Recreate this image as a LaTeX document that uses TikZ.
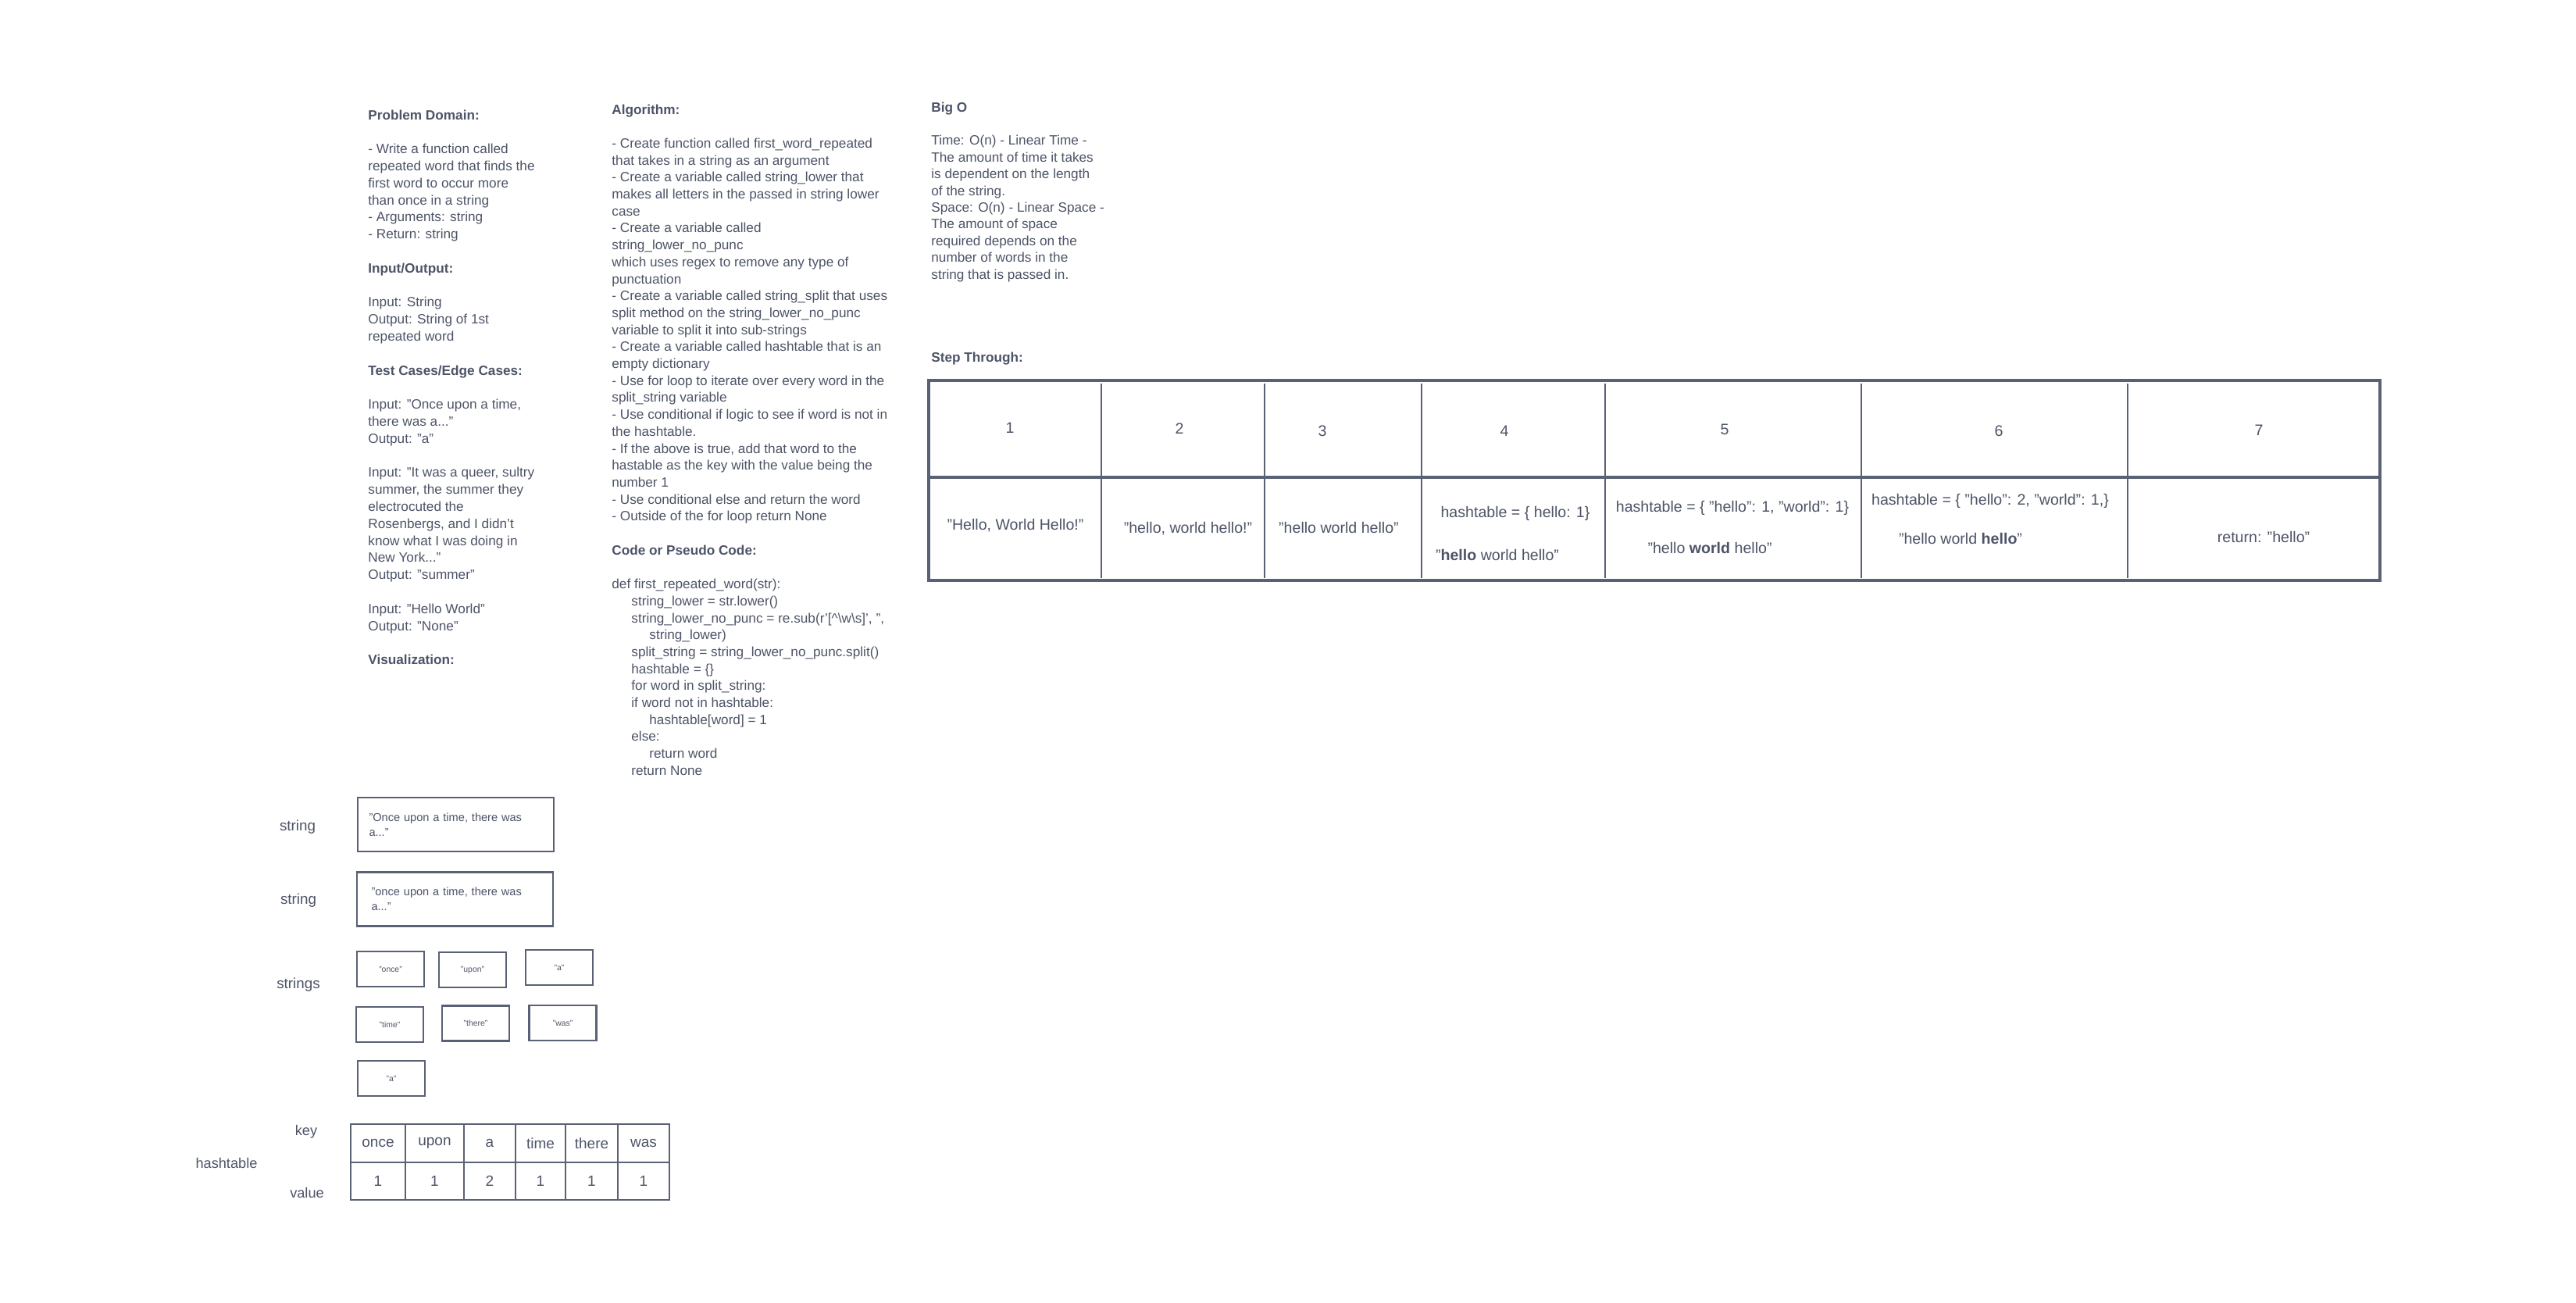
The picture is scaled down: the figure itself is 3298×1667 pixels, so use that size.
\documentclass[tikz,border=0pt]{standalone}
\usepackage{fontspec}
\setmainfont{Liberation Sans}
\definecolor{ink}{HTML}{4D5467}
\definecolor{edge}{HTML}{596174}
\newcommand{\tblock}[4]{\parbox[t]{#1}{\fontsize{#2}{#3}\selectfont\raggedright #4}}
\newcommand{\inA}{\hspace*{12.5pt}}
\newcommand{\inB}{\hspace*{24pt}}
\tikzset{
  body/.style={anchor=base west, inner sep=0pt, text=ink},
  tabtxt/.style={inner sep=0pt, text=ink, font=\fontsize{9.8pt}{12pt}\selectfont},
  vizlabel/.style={inner sep=0pt, text=ink, font=\fontsize{9.4pt}{11pt}\selectfont},
  htlabel/.style={inner sep=0pt, text=ink, font=\fontsize{9.1pt}{11pt}\selectfont},
  bigbox/.style={draw=edge, line width=1.4pt, minimum width=125.5pt, minimum height=34.5pt,
    inner xsep=7pt, inner ysep=0pt, text=ink, align=left, text width=111pt,
    font=\fontsize{7.3pt}{9.5pt}\selectfont},
  wordbox/.style={draw=edge, line width=1.4pt, minimum width=43pt, minimum height=22.5pt,
    inner sep=0pt, text=ink, font=\fontsize{5.2pt}{6pt}\selectfont},
  htcell/.style={draw=edge, line width=1.4pt, inner sep=0pt, text=ink,
    font=\fontsize{9.5pt}{11pt}\selectfont},
  grid/.style={draw=edge, line width=1.3pt},
  frame/.style={draw=edge, line width=1.6pt}
}
\begin{document}
\begin{tikzpicture}[x=0.5pt,y=-0.5pt]
\fill[white] (0,0) rectangle (3298,1667);
\useasboundingbox (0,0) rectangle (3298,1667);

% ---------- Problem Domain column ----------
\node[body] (pd) at (471,153) {\tblock{170pt}{8.6pt}{10.9pt}{%
\textbf{Problem Domain:}\\[10.9pt]
- Write a function called\\
repeated word that finds the\\
first word to occur more\\
than once in a string\\
- Arguments: string\\
- Return: string\\[10.9pt]
\textbf{Input/Output:}\\[10.9pt]
Input: String\\
Output: String of 1st\\
repeated word\\[10.9pt]
\textbf{Test Cases/Edge Cases:}\\[10.9pt]
Input: "Once upon a time,\\
there was a..."\\
Output: "a"\\[10.9pt]
Input: "It was a queer, sultry\\
summer, the summer they\\
electrocuted the\\
Rosenbergs, and I didn't\\
know what I was doing in\\
New York..."\\
Output: "summer"\\[10.9pt]
Input: "Hello World"\\
Output: "None"\\[10.9pt]
\textbf{Visualization:}}};

% ---------- Algorithm column ----------
\node[body] (alg) at (783,146) {\tblock{225pt}{8.6pt}{10.85pt}{%
\textbf{Algorithm:}\\[10.85pt]
- Create function called first\_word\_repeated\\
that takes in a string as an argument\\
- Create a variable called string\_lower that\\
makes all letters in the passed in string lower\\
case\\
- Create a variable called\\
string\_lower\_no\_punc\\
which uses regex to remove any type of\\
punctuation\\
- Create a variable called string\_split that uses\\
split method on the string\_lower\_no\_punc\\
variable to split it into sub-strings\\
- Create a variable called hashtable that is an\\
empty dictionary\\
- Use for loop to iterate over every word in the\\
split\_string variable\\
- Use conditional if logic to see if word is not in\\
the hashtable.\\
- If the above is true, add that word to the\\
hastable as the key with the value being the\\
number 1\\
- Use conditional else and return the word\\
- Outside of the for loop return None\\[10.85pt]
\textbf{Code or Pseudo Code:}\\[10.85pt]
def first\_repeated\_word(str):\\
\inA string\_lower = str.lower()\\
\inA string\_lower\_no\_punc = re.sub(r'[\textasciicircum\textbackslash w\textbackslash s]', '',\\
\inB string\_lower)\\
\inA split\_string = string\_lower\_no\_punc.split()\\
\inA hashtable = \{\}\\
\inA for word in split\_string:\\
\inA if word not in hashtable:\\
\inB hashtable[word] = 1\\
\inA else:\\
\inB return word\\
\inA return None}};

% ---------- Big O column ----------
\node[body] (bigo) at (1192,143) {\tblock{160pt}{8.6pt}{10.7pt}{%
\textbf{Big O}\\[10.7pt]
Time: O(n) - Linear Time -\\
The amount of time it takes\\
is dependent on the length\\
of the string.\\
Space: O(n) - Linear Space -\\
The amount of space\\
required depends on the\\
number of words in the\\
string that is passed in.}};

\node[body, font=\fontsize{8.6pt}{10.7pt}\selectfont\bfseries] (steptitle) at (1192,463) {Step Through:};

% ---------- Step Through table ----------
\draw[frame] (1189,487) rectangle (3047,743);
\draw[frame] (1189,611) -- (3047,611);
\foreach \xx in {1410,1619,1820,2055,2383,2724}
  \draw[grid] (\xx,491) -- (\xx,740);

\node[tabtxt] (h1) at (1293,548) {1};
\node[tabtxt] (h2) at (1510,549) {2};
\node[tabtxt] (h3) at (1693,552) {3};
\node[tabtxt] (h4) at (1926,552) {4};
\node[tabtxt] (h5) at (2208,550) {5};
\node[tabtxt] (h6) at (2559,552) {6};
\node[tabtxt] (h7) at (2892,551) {7};

\node[tabtxt] (c1) at (1300,673) {"Hello, World Hello!"};
\node[tabtxt] (c2) at (1521,677) {"hello, world hello!"};
\node[tabtxt] (c3) at (1714,675) {"hello world hello"};
\node[tabtxt] (c4a) at (1940,657) {hashtable = \{ hello: 1\}};
\node[tabtxt] (c4b) at (1917,710) {"\textbf{hello} world hello"};
\node[tabtxt] (c5a) at (2218,650) {hashtable = \{ "hello": 1, "world": 1\}};
\node[tabtxt] (c5b) at (2189,701) {"hello \textbf{world} hello"};
\node[tabtxt] (c6a) at (2548,641) {hashtable = \{ "hello": 2, "world": 1,\}};
\node[tabtxt] (c6b) at (2510,689) {"hello world \textbf{hello}"};
\node[tabtxt] (c7) at (2898,687) {return: "hello"};

% ---------- Visualization ----------
\node[vizlabel] (lstr1) at (381,1059) {string};
\node[vizlabel] (lstr2) at (382,1153) {string};
\node[vizlabel] (lstrs) at (382,1261) {strings};

\node[bigbox] (s1) at (583.5,1055.5) {"Once upon a time, there was\\a..."};
\node[bigbox] (s2) at (582.5,1151) {\hspace*{2pt}"once upon a time, there was\\\hspace*{2pt}a..."};

\node[wordbox] (w1) at (500,1240.5) {"once"};
\node[wordbox] (w2) at (605,1241.5) {"upon"};
\node[wordbox] (w3) at (716,1238.5) {"a"};
\node[wordbox] (w4) at (499,1311.5) {"time"};
\node[wordbox] (w5) at (609,1310) {"there"};
\node[wordbox] (w6) at (720.5,1309.5) {"was"};
\node[wordbox] (w7) at (501,1380.5) {"a"};

% ---------- Hashtable ----------
\node[htlabel] (lkey) at (392,1449) {key};
\node[htlabel] (lht) at (290,1489) {hashtable};
\node[htlabel] (lval) at (393,1527) {value};

\node[htcell, minimum width=35pt, minimum height=24.5pt] (k1) at (484,1463.5) {once};
\node[htcell, minimum width=37.5pt, minimum height=24.5pt] (k2) at (556.5,1463.5) {upon};
\node[htcell, minimum width=33pt, minimum height=24.5pt] (k3) at (627,1463.5) {a};
\node[htcell, minimum width=32pt, minimum height=24.5pt] (k4) at (692,1463.5) {time};
\node[htcell, minimum width=33.5pt, minimum height=24.5pt] (k5) at (757.5,1463.5) {there};
\node[htcell, minimum width=33pt, minimum height=24.5pt] (k6) at (824,1463.5) {was};

\node[htcell, minimum width=35pt, minimum height=24pt] (v1) at (484,1512) {1};
\node[htcell, minimum width=37.5pt, minimum height=24pt] (v2) at (556.5,1512) {1};
\node[htcell, minimum width=33pt, minimum height=24pt] (v3) at (627,1512) {2};
\node[htcell, minimum width=32pt, minimum height=24pt] (v4) at (692,1512) {1};
\node[htcell, minimum width=33.5pt, minimum height=24pt] (v5) at (757.5,1512) {1};
\node[htcell, minimum width=33pt, minimum height=24pt] (v6) at (824,1512) {1};
\end{tikzpicture}
\end{document}
